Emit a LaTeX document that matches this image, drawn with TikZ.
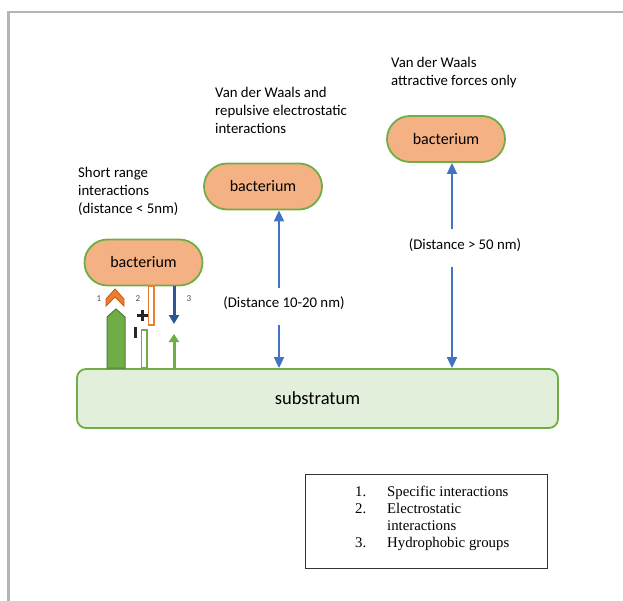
\documentclass[tikz,border=0pt]{standalone}
\usepackage{fontspec}
\setmainfont{Carlito}
\newfontfamily\tnr{Liberation Serif}
\usetikzlibrary{arrows.meta,shapes.misc}
\definecolor{bacfill}{HTML}{F4B183}
\definecolor{grn}{HTML}{70AD47}
\definecolor{dgrn}{HTML}{507E32}
\definecolor{subfill}{HTML}{E2EFDA}
\definecolor{blu}{HTML}{4472C4}
\definecolor{dblu}{HTML}{2F5597}
\definecolor{org}{HTML}{ED7D31}
\definecolor{dorg}{HTML}{C55A11}
\definecolor{frame}{HTML}{B4B4B4}
\tikzset{
  bac/.style={draw=grn, line width=1.8pt, fill=bacfill, rounded rectangle,
    minimum width=118pt, minimum height=46pt, inner sep=0pt,
    font=\fontsize{16}{19}\selectfont},
  sub/.style={draw=grn, line width=1.8pt, fill=subfill, rounded corners=9pt,
    minimum width=481pt, minimum height=59pt, inner sep=0pt,
    font=\fontsize{18.5}{21}\selectfont},
  lbl/.style={anchor=north west, inner sep=0pt, font=\fontsize{14.8}{18}\selectfont},
  distlbl/.style={inner sep=0pt, font=\fontsize{14.8}{18}\selectfont},
  distarrow/.style={draw=blu, line width=1.8pt, -{Triangle[width=10pt,length=11pt]}},
  num/.style={inner sep=0pt, font=\fontsize{9}{10}\selectfont, text=black!70},
}
\begin{document}
\begin{tikzpicture}[x=1pt,y=-1pt]
\useasboundingbox (0,0) rectangle (623,601);
% frame
\draw[frame, line width=2.5pt] (8.5,601) -- (8.5,12) -- (623,12);

% substratum
\node[sub] (sub) at (317.5,398.5) {substratum};

% bacteria
\node[bac] (bac1) at (143.5,262.5) {bacterium};
\node[bac] (bac2) at (263,186.5) {bacterium};
\node[bac] (bac3) at (446,139) {bacterium};

% labels
\node[lbl] (l1) at (78,164.4) {\begin{tabular}{@{}l@{}}Short range\\interactions\\(distance < 5nm)\end{tabular}};
\node[lbl] (l2) at (215,84.4) {\begin{tabular}{@{}l@{}}Van der Waals and\\repulsive electrostatic\\interactions\end{tabular}};
\node[lbl] (l3) at (391,54.4) {\begin{tabular}{@{}l@{}}Van der Waals\\attractive forces only\end{tabular}};

% distance labels and arrows
\node[distlbl] (d2) at (284,303) {(Distance 10-20 nm)};
\node[distlbl] (d3) at (465,245) {(Distance > 50 nm)};
\coordinate (a2) at (279,0);
\coordinate (a3) at (452,0);
\draw[distarrow] ([yshift=8pt]d2.north -| a2) -- (bac2.south -| a2);
\draw[distarrow] ([yshift=-15pt]d2.south -| a2) -- (sub.north -| a2);
\draw[distarrow] ([yshift=9pt]d3.north -| a3) -- (bac3.south -| a3);
\draw[distarrow] ([yshift=-15pt]d3.south -| a3) -- (sub.north -| a3);

% short range interaction symbols
% 1: green big arrow and orange chevron
\draw[fill=grn, draw=dgrn, line width=1pt]
  (107,368) -- (107,317) -- (116,309) -- (125,317) -- (125,368) -- cycle;
\draw[fill=org, draw=dorg, line width=0.8pt]
  (106,299) -- (115,289) -- (124,299) -- (124,306) -- (115,297) -- (106,306) -- cycle;
\node[num] (n1) at (99,299) {1};
% 2: electrostatic
\node[num] (n2) at (138,299) {2};
\draw[draw=org, fill=white, line width=1.5pt] (148.5,286) rectangle (154,325);
\draw[draw=grn, fill=white, line width=1.5pt] (141.5,330) rectangle (147,368);
\draw[line width=3pt, black!85] (137,315.5) -- (148,315.5) (142.5,310) -- (142.5,321);
\draw[line width=3pt, black!85] (135,327) -- (135,338);
% 3: hydrophobic
\node[num] (n3) at (189,299) {3};
\coordinate (h3) at (174,0);
\draw[draw=dblu, line width=3pt, -{Triangle[width=10pt,length=9pt]}] (bac1.south -| h3) -- (174,324);
\draw[draw=grn, line width=3pt, -{Triangle[width=10pt,length=8pt]}] (sub.north -| h3) -- (174,334);

% legend
\node[draw=black!80, line width=1pt, minimum width=242pt, minimum height=94pt, inner sep=0pt] (legend) at (426,521) {};
\node[anchor=north west, inner sep=0pt, font=\tnr\fontsize{14.8}{17}\selectfont] (items) at (355,484.1)
  {\begin{tabular}{@{}p{32pt}@{}l@{}}1.&Specific interactions\\2.&Electrostatic\\&interactions\\3.&Hydrophobic groups\end{tabular}};
\end{tikzpicture}
\end{document}
